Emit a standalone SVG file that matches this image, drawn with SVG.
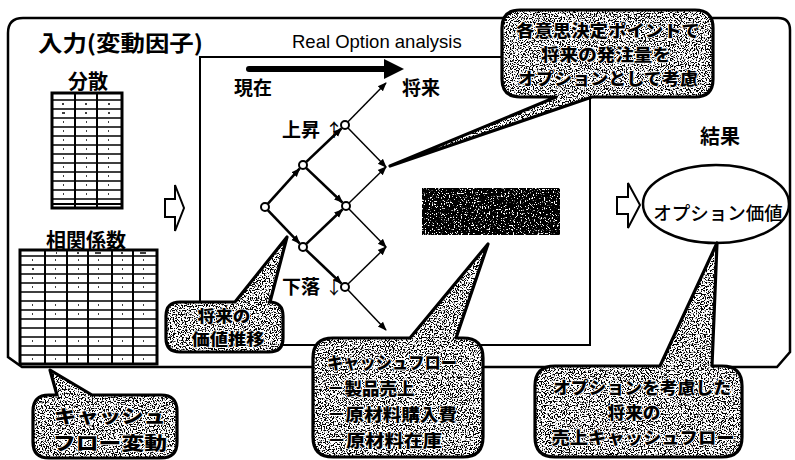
<svg xmlns="http://www.w3.org/2000/svg" width="795" height="460" viewBox="0 0 795 460">
<style>
  .jp{font-family:"Noto Sans CJK JP","Noto Sans CJK SC",sans-serif;fill:#000}
  .b{font-weight:700}
  .lat{fill:none;stroke:#000;stroke-width:2.6;marker-end:url(#ah)}
  .thin{fill:none;stroke:#000;stroke-width:1.5;marker-end:url(#ah2)}
  .node{fill:#fff;stroke:#000;stroke-width:2}
  .box{fill:none;stroke:#000;stroke-width:2.5}
  .tbl{fill:#fff;stroke:#000;stroke-width:3}
  .grid{fill:none;stroke:#000;stroke-width:1.3}
  .cf{fill:#fff;filter:url(#stip)}
  .cs{fill:none;stroke:#000;stroke-width:3.2;stroke-linejoin:round}
  .ct{font-family:"Noto Sans CJK JP","Noto Sans CJK SC",sans-serif;font-weight:900;fill:#000;stroke:#fff;stroke-width:1.6;paint-order:stroke;stroke-linejoin:round}
  .hollow{fill:#fff;stroke:#000;stroke-width:2;stroke-linejoin:miter}
</style>
<defs>
  <marker id="ah" viewBox="0 0 10 10" refX="9" refY="5" markerWidth="9" markerHeight="9" markerUnits="userSpaceOnUse" orient="auto"><path d="M0,1 L10,5 L0,9 Z" fill="#000"/></marker>
  <marker id="ah2" viewBox="0 0 10 10" refX="9" refY="5" markerWidth="9" markerHeight="9" markerUnits="userSpaceOnUse" orient="auto"><path d="M0,1 L10,5 L0,9 Z" fill="#000"/></marker>
  <filter id="stip" x="-5%" y="-5%" width="110%" height="110%" color-interpolation-filters="sRGB">
    <feTurbulence type="fractalNoise" baseFrequency="0.75" numOctaves="2" seed="7" result="n"/>
    <feColorMatrix in="n" type="matrix" values="0 0 0 0 0  0 0 0 0 0  0 0 0 0 0  1 0 0 0 0" result="a"/>
    <feComponentTransfer in="a" result="dots"><feFuncA type="linear" slope="12" intercept="-6"/></feComponentTransfer>
    <feFlood flood-color="#ffffff" result="w"/>
    <feMerge result="m"><feMergeNode in="w"/><feMergeNode in="dots"/></feMerge>
    <feComposite in="m" in2="SourceAlpha" operator="in"/>
  </filter>
  <filter id="dark" x="-5%" y="-5%" width="110%" height="110%" color-interpolation-filters="sRGB">
    <feTurbulence type="fractalNoise" baseFrequency="0.75" numOctaves="2" seed="3" result="n"/>
    <feColorMatrix in="n" type="matrix" values="0 0 0 0 0  0 0 0 0 0  0 0 0 0 0  1 0 0 0 0" result="a"/>
    <feComponentTransfer in="a" result="dots"><feFuncA type="linear" slope="12" intercept="-3.8"/></feComponentTransfer>
    <feFlood flood-color="#ffffff" result="w"/>
    <feMerge result="m"><feMergeNode in="w"/><feMergeNode in="dots"/></feMerge>
    <feComposite in="m" in2="SourceAlpha" operator="in"/>
  </filter>
</defs>

<rect width="795" height="460" fill="#fff"/>

<!-- outer frame -->
<g id="frame">
  <path class="box" d="M8,33 Q8,18 23,18 L778,18 Q790,18 790,30 L790,352 L777,367 L22,367 L8,357 Z"/>
  <text class="jp b" x="38" y="51" font-size="22" textLength="165" lengthAdjust="spacingAndGlyphs">入力(変動因子)</text>
</g>

<!-- input: 分散 table -->
<g id="variance">
  <text class="jp b" x="88" y="89" font-size="20" text-anchor="middle">分散</text>
  <rect class="tbl" x="52" y="93" width="70" height="115"/>
  <path class="grid" d="M52,100H122M52,109H122M52,118H122M52,127H122M52,136H122M52,145H122M52,154H122M52,163H122M52,172H122M52,181H122M52,190H122M52,199H122"/>
  <path d="M52,204H122" stroke="#000" stroke-width="2"/>
  <path d="M75,93V208M97,93V208" stroke="#000" stroke-width="2"/>
  <path d="M62,104h2M85,104h2M108,104h2M62,113h3M85,113h2M108,113h2M63,122h1M86,122h1M108,122h1M63,131h1M86,131h1M108,131h1M63,140h1M86,140h1M108,140h1M63,149h1M86,149h1M108,149h1M63,158h1M86,158h1M108,158h1M63,167h1M86,167h1M108,167h1M63,176h1M86,176h1M108,176h1M63,185h1M86,185h1M108,185h1M63,194h1M86,194h1M108,194h1" stroke="#000" stroke-width="1.5"/>
</g>

<!-- input: 相関係数 table -->
<g id="correlation">
  <text class="jp b" x="86" y="248" font-size="20" text-anchor="middle">相関係数</text>
  <rect class="tbl" x="20" y="250" width="137" height="114"/>
  <path class="grid" d="M20,256H157M20,265H157M20,274H157M20,283H157M20,292H157M20,301H157M20,310H157M20,319H157M20,328H157M20,337H157M20,346H157M20,355H157"/>
  <path d="M45,250V364M67,250V364M88,250V364M112,250V364M133,250V364" stroke="#000" stroke-width="2"/>
  <path d="M56,253h1M77,253h2M95,253h6M121,253h2M140,253h6M32,260h1M55,260h1M78,260h1M98,260h1M122,260h1M143,260h1M32,269h2M55,269h1M78,269h1M98,269h1M122,269h1M143,269h1M32,278h1M55,278h1M78,278h1M98,278h1M122,278h1M143,278h1M32,287h1M55,287h1M78,287h1M98,287h1M122,287h1M143,287h1M32,305h1M55,305h1M78,305h1M98,305h1M122,305h1M143,305h1M32,314h1M55,314h1M78,314h1M98,314h1M122,314h1M143,314h1M32,341h1M55,341h1M78,341h1M98,341h1M122,341h1M143,341h1M32,359h1M55,359h1M78,359h1M98,359h1M122,359h1M143,359h1" stroke="#000" stroke-width="1.5"/>
</g>

<!-- hollow arrows -->
<g id="arrow-in">
  <path class="hollow" d="M165,199 L175,199 L175,185 L184,208 L175,231 L175,217 L165,217 Z"/>
</g>
<g id="arrow-out">
  <path class="hollow" d="M617,197 L628,197 L628,183 L640,205 L628,228 L628,214 L617,214 Z"/>
</g>

<!-- Real Option analysis box -->
<g id="real-option">
  <rect x="200" y="57" width="390" height="288" fill="none" stroke="#000" stroke-width="2"/>
  <text x="292" y="48" font-family="Liberation Sans, Arial, sans-serif" font-size="18.5" fill="#000">Real Option analysis</text>
  <line x1="249" y1="69" x2="388" y2="69" stroke="#000" stroke-width="6" stroke-linecap="round"/>
  <path d="M384,59 L404,69 L384,79 Z" fill="#000"/>
  <text class="jp b" x="234" y="95" font-size="19">現在</text>
  <text class="jp b" x="402" y="95" font-size="19">将来</text>
  <text class="jp b" x="282" y="137" font-size="19">上昇<tspan dx="5" font-weight="400" font-size="18">↑</tspan></text>
  <text class="jp b" x="282" y="294" font-size="19">下落<tspan dx="5" font-weight="400" font-size="18">↓</tspan></text>
  <rect x="422" y="188" width="138" height="47" fill="#fff" filter="url(#dark)"/>
</g>

<!-- lattice connectors -->
<g id="connectors">
  <line class="lat" x1="268" y1="203.7" x2="299.6" y2="168.7"/>
  <line class="lat" x1="268" y1="210.3" x2="299.6" y2="243.4"/>
  <line class="lat" x1="306.3" y1="161.9" x2="341.4" y2="128.5"/>
  <line class="lat" x1="306.3" y1="168.1" x2="342.4" y2="202.5"/>
  <line class="lat" x1="306.3" y1="243.9" x2="342.4" y2="209.5"/>
  <line class="lat" x1="306.3" y1="250.1" x2="341.4" y2="283.5"/>
  <line class="thin" x1="348" y1="121.8" x2="386" y2="83"/>
  <line class="thin" x1="348" y1="128" x2="386" y2="167"/>
  <line class="thin" x1="349" y1="203" x2="386" y2="167"/>
  <line class="thin" x1="349" y1="209" x2="386" y2="247"/>
  <line class="thin" x1="348" y1="284" x2="386" y2="247"/>
  <line class="thin" x1="348" y1="290" x2="386" y2="330"/>
</g>

<!-- lattice nodes -->
<g id="n0"><circle class="node" cx="265" cy="207" r="4"/></g>
<g id="n1"><circle class="node" cx="303" cy="165" r="4"/></g>
<g id="n2"><circle class="node" cx="303" cy="247" r="4"/></g>
<g id="n3"><circle class="node" cx="345" cy="125" r="4"/></g>
<g id="n4"><circle class="node" cx="346" cy="206" r="4"/></g>
<g id="n5"><circle class="node" cx="345" cy="287" r="4"/></g>

<!-- result -->
<g id="result">
  <text class="jp b" x="700" y="144" font-size="20">結果</text>
  <ellipse cx="716" cy="204" rx="73" ry="39" fill="#fff" stroke="#000" stroke-width="2.5"/>
  <text class="jp" x="718" y="220" font-size="18.5" font-weight="500" text-anchor="middle">オプション価値</text>
</g>

<!-- callout A -->
<g id="callout-decision">
  <path class="cf" d="M520,10 L695,10 Q713,10 713,28 L713,79 Q713,97 695,97 L592,97 L390,166 L556,97 L520,97 Q502,97 502,79 L502,28 Q502,10 520,10 Z"/>
  <path class="cs" d="M520,10 L695,10 Q713,10 713,28 L713,79 Q713,97 695,97 L592,97 L390,166 L556,97 L520,97 Q502,97 502,79 L502,28 Q502,10 520,10 Z"/>
  <text class="ct" x="608" y="37" font-size="16.5" text-anchor="middle" textLength="184" lengthAdjust="spacingAndGlyphs">各意思決定ポイントで</text>
  <text class="ct" x="606" y="61" font-size="16.5" text-anchor="middle" textLength="130" lengthAdjust="spacingAndGlyphs">将来の発注量を</text>
  <text class="ct" x="608" y="85" font-size="16.5" text-anchor="middle" textLength="180" lengthAdjust="spacingAndGlyphs">オプションとして考慮</text>
</g>

<!-- callout B -->
<g id="callout-value">
  <path class="cf" d="M180,302 L235,302 L287,237 L270,302 L269,302 Q283,302 283,316 L283,338 Q283,352 269,352 L180,352 Q166,352 166,338 L166,316 Q166,302 180,302 Z"/>
  <path class="cs" d="M180,302 L235,302 L287,237 L270,302 L269,302 Q283,302 283,316 L283,338 Q283,352 269,352 L180,352 Q166,352 166,338 L166,316 Q166,302 180,302 Z"/>
  <text class="ct" x="224" y="322" font-size="16" text-anchor="middle" textLength="53" lengthAdjust="spacingAndGlyphs">将来の</text>
  <text class="ct" x="228" y="345" font-size="16" text-anchor="middle" textLength="73" lengthAdjust="spacingAndGlyphs">価値推移</text>
</g>

<!-- callout C -->
<g id="callout-cashflow">
  <path class="cf" d="M333,338 L410,338 L488,244 L456,338 L463,338 Q483,338 483,358 L483,437 Q483,457 463,457 L333,457 Q313,457 313,437 L313,358 Q313,338 333,338 Z"/>
  <path class="cs" d="M333,338 L410,338 L488,244 L456,338 L463,338 Q483,338 483,358 L483,437 Q483,457 463,457 L333,457 Q313,457 313,437 L313,358 Q313,338 333,338 Z"/>
  <text class="ct" x="327" y="369" font-size="17.5" textLength="130" lengthAdjust="spacingAndGlyphs">キャッシュフロー</text>
  <text class="ct" x="327" y="395" font-size="17.5">－製品売上</text>
  <text class="ct" x="327" y="421" font-size="17.5" textLength="130" lengthAdjust="spacingAndGlyphs">－原材料購入費</text>
  <text class="ct" x="327" y="447" font-size="17.5" textLength="115" lengthAdjust="spacingAndGlyphs">－原材料在庫</text>
</g>

<!-- callout D -->
<g id="callout-sales">
  <path class="cf" d="M555,366 L660,366 L717,243 L712,366 L722,366 Q742,366 742,386 L742,437 Q742,457 722,457 L555,457 Q535,457 535,437 L535,386 Q535,366 555,366 Z"/>
  <path class="cs" d="M555,366 L660,366 L717,243 L712,366 L722,366 Q742,366 742,386 L742,437 Q742,457 722,457 L555,457 Q535,457 535,437 L535,386 Q535,366 555,366 Z"/>
  <text class="ct" x="642" y="394" font-size="17" text-anchor="middle" textLength="178" lengthAdjust="spacingAndGlyphs">オプションを考慮した</text>
  <text class="ct" x="634" y="419" font-size="17" text-anchor="middle" textLength="53" lengthAdjust="spacingAndGlyphs">将来の</text>
  <text class="ct" x="643" y="444" font-size="17" text-anchor="middle" textLength="183" lengthAdjust="spacingAndGlyphs">売上キャッシュフロー</text>
</g>

<!-- callout E -->
<g id="callout-fluct">
  <path class="cf" d="M49,395 L57,395 L50,370 L92,395 L161,395 Q177,395 177,411 L177,442 Q177,458 161,458 L49,458 Q33,458 33,442 L33,411 Q33,395 49,395 Z"/>
  <path class="cs" d="M49,395 L57,395 L50,370 L92,395 L161,395 Q177,395 177,411 L177,442 Q177,458 161,458 L49,458 Q33,458 33,442 L33,411 Q33,395 49,395 Z"/>
  <text class="ct" x="110" y="423" font-size="18.5" text-anchor="middle" textLength="112" lengthAdjust="spacingAndGlyphs">キャッシュ</text>
  <text class="ct" x="110" y="450" font-size="18.5" text-anchor="middle" textLength="114" lengthAdjust="spacingAndGlyphs">フロー変動</text>
</g>
</svg>
